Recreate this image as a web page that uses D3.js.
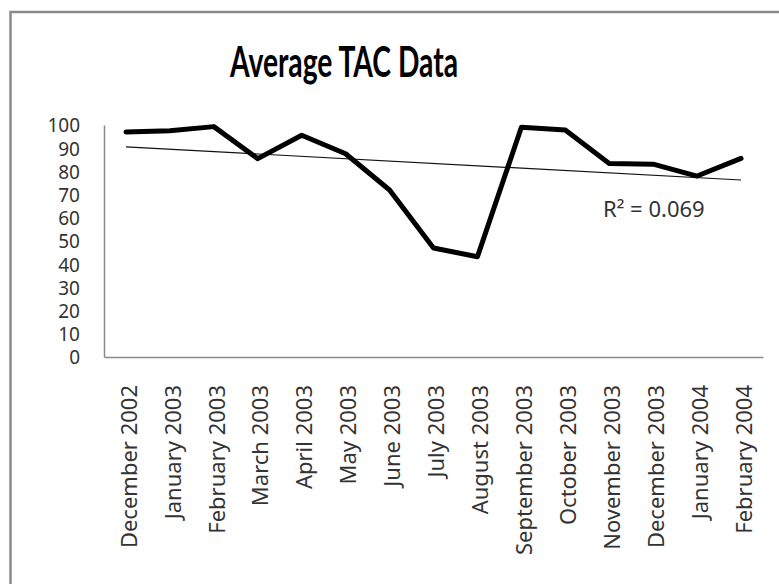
<!DOCTYPE html>
<html>
<head>
<meta charset="utf-8">
<script src="https://cdn.jsdelivr.net/npm/d3@7"></script>
<style>
  body { margin: 0; background: #fff; }
  svg { display: block; }
</style>
</head>
<body>
<svg id="chart" width="779" height="584"></svg>
<script>
// chart values
var months = ["December 2002", "January 2003", "February 2003", "March 2003", "April 2003",
    "May 2003", "June 2003", "July 2003", "August 2003", "September 2003",
    "October 2003", "November 2003", "December 2003", "January 2004", "February 2004"];
var tacValues = [97, 97.5, 99.3, 85.5, 95.6, 87.6, 72, 47, 43.2, 99, 97.8, 83.4, 83.1, 78, 85.6];
var yTicks = [0, 10, 20, 30, 40, 50, 60, 70, 80, 90, 100];
var titleText = "Average TAC Data";
var r2Text = "R\u00B2 = 0.069";

var svg = d3.select("#chart");
var labelFont = "'Noto Sans', 'Open Sans', sans-serif";

var plot = {left: 104, right: 763, top: 125, bottom: 357};

// chart frame, runs off the right and bottom edges like the reference
svg.append("rect")
    .attr("x", 10.5)
    .attr("y", 12)
    .attr("width", 900)
    .attr("height", 700)
    .attr("fill", "#fff")
    .attr("stroke", "#8a8a8a")
    .attr("stroke-width", 2.5)

svg.append("text")
    .attr("x", 344)
    .attr("y", 77)
    .attr("text-anchor", "middle")
    .attr("font-family", "Lato, 'Open Sans', sans-serif")
    .attr("font-weight", "bold")
    .attr("font-size", 42)
    .attr("textLength", 228)
    .attr("lengthAdjust", "spacingAndGlyphs")
    .attr("fill", "#000")
    .text(titleText)

var x = d3.scaleBand()
    .domain(months)
    .range([plot.left, plot.right])
    .paddingInner(0)
    .paddingOuter(0);
var y = d3.scaleLinear()
    .domain([0, 100])
    .range([plot.bottom, plot.top]);

function cx(m) { return x(m) + x.bandwidth() / 2; }

// y axis
var yAxis = svg.append("g")
    .attr("transform", "translate(" + plot.left + ",0)")
    .call(d3.axisLeft(y).tickValues(yTicks).tickSize(0).tickPadding(24))
yAxis.select(".domain").attr("stroke", "#8a8a8a").attr("stroke-width", 1.5)
yAxis.selectAll("text")
    .attr("font-family", labelFont)
    .attr("font-weight", 400)
    .attr("font-size", 19)
    .attr("fill", "#333")
    .attr("dy", "0.36em")

// x axis
var xAxis = svg.append("g")
    .attr("transform", "translate(0," + plot.bottom + ")")
    .call(d3.axisBottom(x).tickSize(0).tickPadding(0))
xAxis.select(".domain").attr("stroke", "#8a8a8a").attr("stroke-width", 1.5)
xAxis.selectAll("text")
    .attr("font-family", labelFont)
    .attr("font-weight", 400)
    .attr("font-size", 22)
    .attr("fill", "#333")
    .attr("text-anchor", "end")
    .attr("transform", "translate(3,28) rotate(-90)")
    .attr("x", 0)
    .attr("y", 0)
    .attr("dy", "0.35em")

// least squares trendline over category index
var n = tacValues.length;
var idx = d3.range(1, n + 1);
var mx = d3.mean(idx), my = d3.mean(tacValues);
var sxy = d3.sum(idx, function(d, i) { return (d - mx) * (tacValues[i] - my); });
var sxx = d3.sum(idx, function(d) { return (d - mx) * (d - mx); });
var slope = sxy / sxx;
var intercept = my - slope * mx;

svg.append("line")
    .attr("x1", cx(months[0]))
    .attr("y1", y(intercept + slope * 1))
    .attr("x2", cx(months[n - 1]))
    .attr("y2", y(intercept + slope * n))
    .attr("stroke", "#111")
    .attr("stroke-width", 1.2)

var line = d3.line()
    .x(function(d, i) { return cx(months[i]); })
    .y(function(d) { return y(d); });

svg.append("path")
    .datum(tacValues)
    .attr("d", line)
    .attr("fill", "none")
    .attr("stroke", "#000")
    .attr("stroke-width", 5)
    .attr("stroke-linejoin", "round")
    .attr("stroke-linecap", "round")

svg.append("text")
    .attr("x", 603)
    .attr("y", 217)
    .attr("font-family", labelFont)
    .attr("font-weight", 400)
    .attr("font-size", 22)
    .attr("fill", "#333")
    .text(r2Text)
</script>
</body>
</html>
